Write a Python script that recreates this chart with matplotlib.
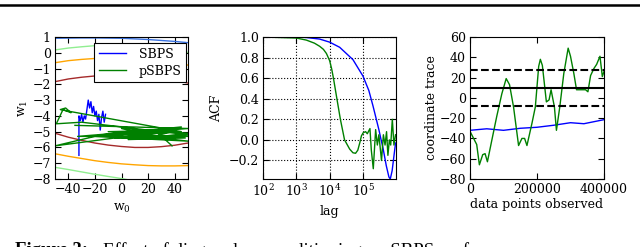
import numpy as np
import matplotlib
matplotlib.use("Agg")
import matplotlib.pyplot as plt
from matplotlib.lines import Line2D

plt.rcParams['font.family'] = ['DejaVu Serif']
plt.rcParams['mathtext.fontset'] = 'dejavuserif'
plt.rcParams['font.size'] = 9

# panel 1: contour lines of the posterior
cx = [-50, -40, -30, -20, -10, 0, 10, 20, 30, 40, 50]
c_blue_top = [0.92, 0.93, 0.94, 0.94, 0.93, 0.92, 0.88, 0.84, 0.78, 0.72, 0.64]
c_lgreen_top = [0.18, 0.30, 0.38, 0.45, 0.49, 0.50, 0.48, 0.42, 0.32, 0.18, 0.02]
c_orange_top = [-0.63, -0.50, -0.42, -0.36, -0.33, -0.33, -0.35, -0.41, -0.50, -0.62, -0.78]
c_brown_top = [-1.83, -1.66, -1.55, -1.47, -1.42, -1.41, -1.44, -1.50, -1.60, -1.74, -1.92]
c_brown_bot = [-5.10, -5.35, -5.55, -5.72, -5.85, -5.94, -6.00, -6.00, -5.95, -5.86, -5.72]
c_orange_bot = [-6.40, -6.56, -6.70, -6.84, -6.95, -7.04, -7.10, -7.15, -7.17, -7.17, -7.15]
lg_x = [-50, -40, -30, -20, -10, 0, 5]
c_lgreen_bot = [-7.26, -7.40, -7.55, -7.70, -7.84, -7.97, -8.05]

sbps_w0 = [-32, -32, -31, -30, -29, -28, -27, -26, -25, -24, -23, -22, -21, -20,
           -19, -18, -17, -16, -15, -14, -13, -12]
sbps_w1 = [-6.5, -4.0, -4.3, -3.9, -4.4, -4.0, -4.2, -3.6, -3.0, -3.5, -3.1, -3.8,
           -3.4, -4.0, -3.7, -4.3, -3.9, -4.9, -4.1, -3.7, -4.4, -3.9]
psbps_w0 = [-35, 50, -25, 45, -40, -46, -42, -38, -44, -49, -30, 50, 5, 48, -10, 40,
            -50, -20, 50, 10, 45, -15, 35, 0, 50, 20, 38, -5, 50, -33, 25, 38]
psbps_w1 = [-4.6, -4.8, -5.3, -5.0, -3.7, -3.6, -3.5, -3.8, -3.6, -4.5, -4.4, -5.2,
            -5.5, -5.4, -5.0, -4.9, -5.9, -5.3, -5.6, -5.2, -4.7, -5.2, -5.5, -4.8,
            -5.1, -5.4, -5.0, -5.4, -5.3, -5.3, -4.9, -5.9]

# panel 2: autocorrelation
lag_blue = [100, 300, 1000, 2000, 5000, 1e4, 2e4, 5e4, 1e5, 1.5e5, 2e5, 3e5, 3.5e5,
            4e5, 5e5, 6e5, 6.6e5, 7.5e5, 9.5e5]
acf_blue = [1.0, 1.0, 1.0, 0.995, 0.98, 0.95, 0.90, 0.78, 0.62, 0.48, 0.33, 0.10, 0.0,
            -0.08, -0.25, -0.36, -0.38, -0.30, -0.03]
lag_green = [100, 1000, 2000, 3500, 5000, 6500, 8000, 1e4, 1.15e4, 1.3e4, 1.65e4,
             2.1e4, 2.8e4, 4e4, 5e4, 6e4, 7e4, 8e4, 9e4, 1.02e5, 1.2e5, 1.35e5,
             1.62e5, 1.78e5, 2.04e5, 2.4e5, 2.7e5, 3.0e5, 3.6e5, 4.1e5, 4.6e5,
             5.1e5, 5.6e5, 6.2e5, 6.8e5, 7.6e5, 8.5e5, 9.5e5]
acf_green = [1.0, 0.99, 0.97, 0.94, 0.91, 0.88, 0.84, 0.77, 0.69, 0.60, 0.40, 0.20,
             0.0, -0.09, -0.125, -0.13, -0.10, -0.03, 0.04, 0.07, 0.08, 0.06, 0.11,
             -0.10, -0.28, 0.10, -0.05, 0.05, -0.20, 0.05, -0.05, 0.08, -0.15, 0.0,
             -0.05, 0.20, -0.05, 0.05]
lag_ticks = [1e2, 1e3, 1e4, 1e5]

# panel 3: coordinate trace
n_obs_green = [0, 20000, 28000, 38000, 45000, 52000, 65000, 80000, 95000, 108000,
               118000, 130000, 145000, 155000, 163000, 170000, 185000, 195000, 205000,
               210000, 216000, 228000, 236000, 242000, 252000, 258000, 268000, 280000,
               293000, 300000, 310000, 318000, 330000, 345000, 352000, 360000, 370000,
               378000, 388000, 395000, 400000]
trace_green = [-33, -46, -66, -56, -55, -63, -42, -18, 4, 19, 13, -9, -47, -40, -40,
               -47, -25, -9, 31, 38, 32, -4, -2, 8, -9, -32, -9, 24, 49, 41, 24, 8, 8,
               8, 6, 22, 29, 33, 41, 21, 26]
n_obs_blue = [0, 50000, 100000, 150000, 200000, 250000, 300000, 340000, 400000]
trace_blue = [-32, -30.5, -32, -30, -29, -27, -24.5, -25.5, -21.5]
post_mean = 10
post_lo = -8
post_hi = 27.5

fig = plt.figure(figsize=(6.4, 2.47), dpi=100)

ax1 = fig.add_axes([55/640, 1-179/247, 133/640, 142/247])
ax2 = fig.add_axes([263/640, 1-179/247, 133/640, 142/247])
ax3 = fig.add_axes([470/640, 1-179/247, 134/640, 142/247])

for c, top in [('#3a72e0', c_blue_top), ('#90ee90', c_lgreen_top),
               ('#ffa500', c_orange_top), ('#a52a2a', c_brown_top)]:
    ax1.plot(cx, top, color=c, lw=1)
ax1.plot(cx, c_brown_bot, color='#a52a2a', lw=1)
ax1.plot(cx, c_orange_bot, color='#ffa500', lw=1)
ax1.plot(lg_x, c_lgreen_bot, color='#90ee90', lw=1)
l1, = ax1.plot(sbps_w0, sbps_w1, color='blue', lw=1)
l2, = ax1.plot(psbps_w0, psbps_w1, color='green', lw=1)
ax1.set_xlim(-50, 50)
ax1.set_ylim(-8, 1)
ax1.set_xticks([-40, -20, 0, 20, 40])
ax1.set_yticks(range(-8, 2))
ax1.set_xlabel('w$_0$')
ax1.set_ylabel('w$_1$', labelpad=2)
leg = ax1.legend([l1, l2], ['SBPS', 'pSBPS'], loc='upper right', fontsize=9,
                 fancybox=False, framealpha=1, edgecolor='black',
                 bbox_to_anchor=(0.985, 0.955), handlelength=2.2, borderaxespad=0,
                 borderpad=0.35, labelspacing=0.3, handletextpad=1.0)
leg.get_frame().set_linewidth(0.8)

ax2.plot(lag_blue, acf_blue, color='blue', lw=1)
ax2.plot(lag_green, acf_green, color='green', lw=1)
ax2.set_xscale('log')
ax2.set_xlim(100, 9.8e5)
ax2.set_ylim(-0.38, 1.0)
ax2.set_xticks(lag_ticks)
ax2.set_yticks([-0.2, 0.0, 0.2, 0.4, 0.6, 0.8, 1.0])
ax2.grid(True, which='major', color='black', linestyle=':', lw=0.8)
ax2.set_xlabel('lag')
ax2.set_ylabel('ACF')

ax3.plot(n_obs_blue, trace_blue, color='blue', lw=1)
ax3.plot(n_obs_green, trace_green, color='green', lw=1)
ax3.axhline(post_mean, color='black', lw=1.5)
ax3.axhline(post_lo, color='black', lw=1.5, ls='--')
ax3.axhline(post_hi, color='black', lw=1.5, ls='--')
ax3.set_xlim(0, 400000)
ax3.set_ylim(-80, 60)
ax3.set_xticks([0, 200000, 400000])
ax3.set_yticks(range(-80, 61, 20))
ax3.set_xlabel('data points observed', labelpad=1)
ax3.set_ylabel('coordinate trace', labelpad=1)

for ax in (ax1, ax2, ax3):
    ax.tick_params(which='both', direction='in', top=True, right=True, pad=3)
    ax.tick_params(which='major', length=4)
    ax.tick_params(which='minor', length=2)

# page rule above and caption cut at the bottom
fig.add_artist(Line2D([0, 1], [1-5.5/247, 1-5.5/247], color='black', lw=1.8))
fig.text(15/640, 1-242/247, 'Figure 3:', fontsize=13.5, fontweight='bold',
         family='Liberation Serif', va='top')
fig.text(103/640, 1-242/247, 'Effect of diagonal preconditioning on SBPS performance',
         fontsize=13.5, family='Liberation Serif', va='top')

fig.savefig('out.png', dpi=100)
